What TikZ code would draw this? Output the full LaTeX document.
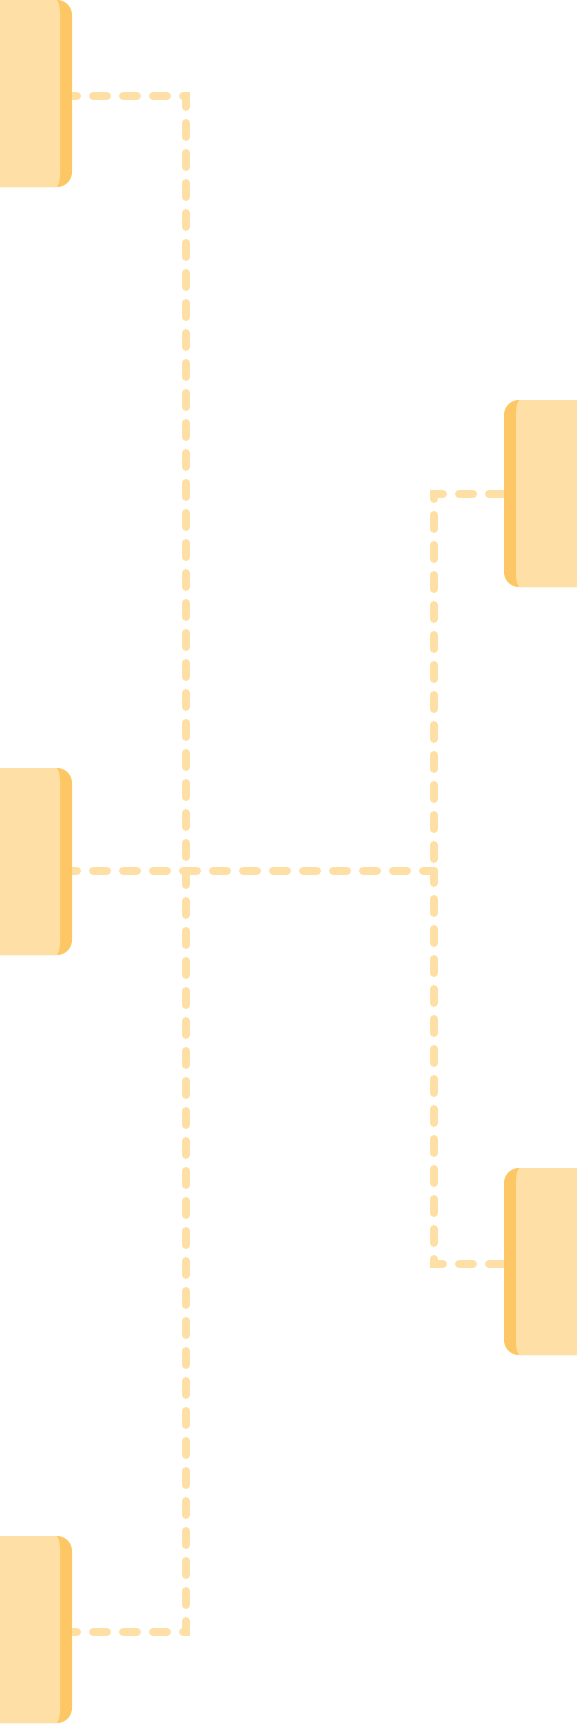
\documentclass[tikz,border=0pt]{standalone}
\usetikzlibrary{backgrounds}
\definecolor{boxlight}{HTML}{FEE0A7}
\definecolor{boxdark}{HTML}{FEC765}
\tikzset{
  box/.style={draw=none, fill=boxdark, rounded corners=15pt, minimum width=92pt, minimum height=187pt, inner sep=0pt, outer sep=0pt},
  link/.style={draw=boxlight, line width=8pt, line cap=round, dash pattern=on 14pt off 16pt, dash phase=9pt},
  rlink/.style={link, dash phase=29pt},
}
\newcommand\leftface[1]{%
  \fill[boxlight] (#1.north west) -- ([xshift=-15pt]#1.north east)
    .. controls +(2.5,-4) and +(0,6) .. ([xshift=-12pt,yshift=-15pt]#1.north east)
    -- ([xshift=-12pt,yshift=15pt]#1.south east)
    .. controls +(0,-6) and +(2.5,4) .. ([xshift=-15pt]#1.south east)
    -- (#1.south west) -- cycle;}
\newcommand\rightface[1]{%
  \fill[boxlight] (#1.north east) -- ([xshift=15pt]#1.north west)
    .. controls +(-2.5,-4) and +(0,6) .. ([xshift=12pt,yshift=-15pt]#1.north west)
    -- ([xshift=12pt,yshift=15pt]#1.south west)
    .. controls +(0,-6) and +(-2.5,4) .. ([xshift=15pt]#1.south west)
    -- (#1.south east) -- cycle;}
\begin{document}
\begin{tikzpicture}[x=1pt,y=1pt]
\useasboundingbox (0,0) rectangle (576,-1724);
% boxes
\node[box] (b1) at (26,-93.5) {};
\leftface{b1}
\node[box] (b2) at (550,-493.5) {};
\rightface{b2}
\node[box] (b3) at (26,-861.5) {};
\leftface{b3}
\node[box] (b4) at (550,-1261.5) {};
\rightface{b4}
\node[box] (b5) at (26,-1629.5) {};
\leftface{b5}
% junction points
\coordinate (ltop) at (186,-96);
\coordinate (lbot) at (186,-1632);
\coordinate (lmid) at (186,-870.7);
\coordinate (rtop) at (434,-494);
\coordinate (rbot) at (434,-1264);
\coordinate (rmid) at (434,-870.7);
\begin{pgfonlayer}{background}
\draw[link] ([yshift=-2.5pt]b1.east) -- (ltop) -- (lmid);
\draw[link] ([yshift=-2.5pt]b5.east) -- (lbot) -- (lmid);
\draw[rlink] ([yshift=-0.5pt]b2.west) -- (rtop) -- (rmid);
\draw[rlink] ([yshift=-2.5pt]b4.west) -- (rbot) -- (rmid);
\draw[link] ([yshift=-9.2pt]b3.east) -- (rmid);
\end{pgfonlayer}
\end{tikzpicture}
\end{document}
